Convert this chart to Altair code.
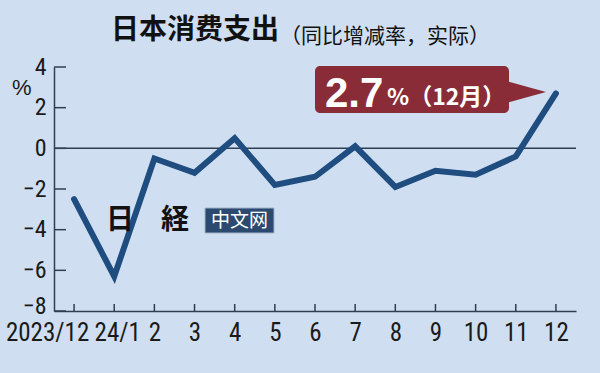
import altair as alt
import pandas as pd

# ---- data ----
months = ["2023/12", "24/1", "2", "3", "4", "5", "6", "7", "8", "9", "10", "11", "12"]
values = [-2.5, -6.3, -0.5, -1.2, 0.5, -1.8, -1.4, 0.1, -1.9, -1.1, -1.3, -0.4, 2.7]
y_ticks = [-8, -6, -4, -2, 0, 2, 4]
title_main = "日本消费支出"
title_sub = "（同比增减率，实际）"
unit_label = "%"
callout_value = f"{values[-1]}"
callout_suffix = "%（12月）"
wm_logo = ["日", "経"]
wm_box = "中文网"

# ---- style ----
W, H = 522, 244
BG = "#cfdff1"
LINE = "#1f4d80"
AXIS = "#2f3e50"
RED = "#8a2c37"
TXT = "#1a1a1a"
NARROW = "Liberation Sans Narrow, Arial Narrow, Roboto Condensed, DejaVu Sans Condensed, sans-serif"
CJK = "Noto Sans CJK SC, sans-serif"
CJKJP = "Noto Sans CJK JP, sans-serif"

df = pd.DataFrame({"month": months, "value": values})
ticks_df = pd.DataFrame({"v": y_ticks})
one = pd.DataFrame({"a": [0]})

x_axis = alt.Axis(
    ticks=False, tickSize=0, labelAngle=0, labelFont=NARROW, labelFontSize=25,
    labelColor=TXT, labelPadding=9, domainColor=AXIS, domainWidth=1.5, grid=False,
    title=None, labelOverlap=False,
    labelOffset={"condition": [{"test": "datum.value === '2023/12'", "value": -27},
                               {"test": "datum.value === '24/1'", "value": 3}],
                 "value": 0},
)
y_axis = alt.Axis(
    values=y_ticks, ticks=False, tickSize=0, labelFont=NARROW, labelFontSize=24,
    labelColor=TXT, labelPadding=8, domainColor=AXIS, domainWidth=1.5, grid=False,
    title=None,
    labelOffset={"condition": {"test": "datum.value === -8", "value": -5}, "value": 0},
)
x_scale = alt.Scale(type="point", padding=0.5)
y_scale = alt.Scale(domain=[-8, 4], nice=False, zero=False)

X = alt.X("month:O", sort=months, scale=x_scale, axis=x_axis)

line = alt.Chart(df).mark_line(color=LINE, strokeWidth=6, strokeCap="round", strokeJoin="miter").encode(
    x=X, y=alt.Y("value:Q", scale=y_scale, axis=y_axis)
)

ytick_rules = alt.Chart(ticks_df).mark_rule(color=AXIS, strokeWidth=1.5).encode(
    y=alt.Y("v:Q", scale=y_scale, axis=y_axis), x=alt.value(0), x2=alt.value(12)
)
zero_rule = alt.Chart(pd.DataFrame({"v": [0]})).mark_rule(color=AXIS, strokeWidth=1.5).encode(
    y=alt.Y("v:Q", scale=y_scale, axis=y_axis), x=alt.value(0), x2=alt.value(W)
)
xtick_rules = alt.Chart(df).mark_rule(color=AXIS, strokeWidth=1.5).encode(
    x=X, y=alt.value(H - 7), y2=alt.value(H)
)

def txt(text, x, y, size, font, color=TXT, weight="normal", align="left", baseline="middle"):
    return alt.Chart(one).mark_text(
        text=text, font=font, fontSize=size, fontWeight=weight, color=color,
        align=align, baseline=baseline
    ).encode(x=alt.value(x), y=alt.value(y))

title1 = txt(title_main, 57, -36, 28, CJK, color="#111111", weight="bold")
title2 = txt(title_sub, 226, -30, 21, CJK, color="#111111")
unit = txt(unit_label, -42, 21, 22, "Liberation Sans, sans-serif")

# callout
box = alt.Chart(one).mark_rect(cornerRadius=5, color=RED).encode(
    x=alt.value(261), x2=alt.value(455), y=alt.value(-1), y2=alt.value(46)
)
pointer = alt.Chart(one).mark_point(
    shape="M-1,-0.55L1,0L-1,0.55Z", filled=True, size=1444, color=RED, opacity=1, strokeWidth=0
).encode(x=alt.value(473), y=alt.value(25))
c1 = txt(callout_value, 271, 40, 42, "Liberation Sans, sans-serif", color="white", weight="bold", baseline="alphabetic")
c2 = txt(callout_suffix, 333, 38, 23, CJK, color="white", weight="bold", baseline="alphabetic")

# watermark
wm_rect = alt.Chart(one).mark_rect(color="#2c4a6f", stroke="#9fb4cc", strokeWidth=1).encode(
    x=alt.value(151), x2=alt.value(220), y=alt.value(141), y2=alt.value(166)
)
wm_t = txt(wm_box, 185.5, 153.5, 19, CJK, color="white", align="center")
wm_a = txt(wm_logo[0], 66, 154, 28, CJKJP, color="#111111", weight="bold", align="center")
wm_b = txt(wm_logo[1], 121, 154, 28, CJKJP, color="#111111", weight="bold", align="center")

chart = alt.layer(
    zero_rule, ytick_rules, xtick_rules, line,
    wm_rect, wm_t, wm_a, wm_b,
    box, pointer, c1, c2,
    title1, title2, unit,
).properties(
    width=W, height=H,
    padding={"left": 54, "top": 67, "right": 24, "bottom": 62},
    autosize=alt.AutoSizeParams(type="none"),
).configure(background=BG).configure_view(stroke="transparent")

chart.save("out.html", embed_options={"renderer": "svg", "actions": False})
